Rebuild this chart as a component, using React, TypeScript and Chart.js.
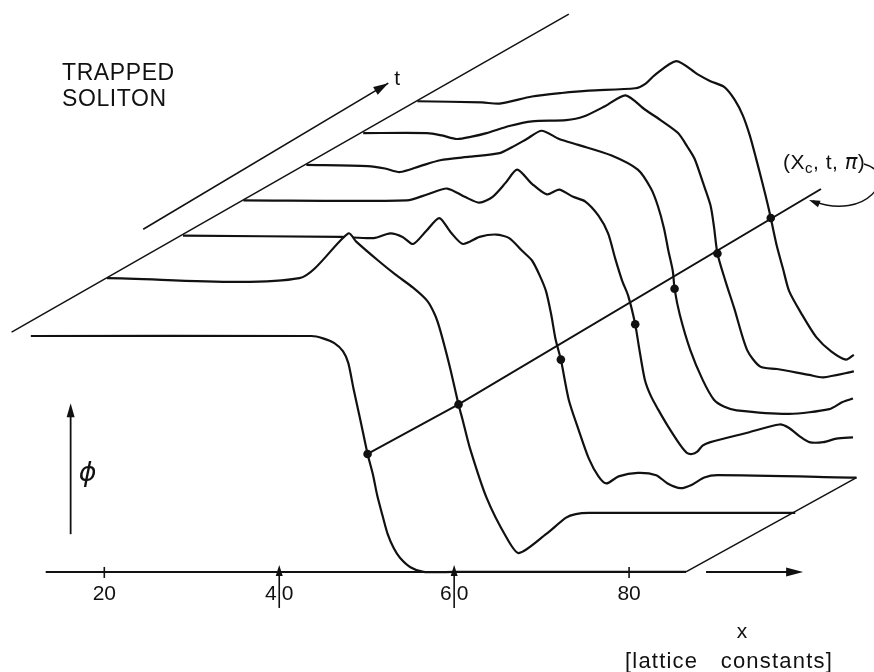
import React, { useEffect, useRef } from "react";
import { Chart, registerables } from "chart.js";

Chart.register(...registerables);

// Field profiles phi(x) of the trapped soliton, one per time slice t = 0..6.
// x in lattice constants, phi in units of π.
const xT0 = [11.6, 43.7, 45.0, 46.3, 47.3, 47.9, 48.5, 49.3, 50.1, 50.7, 51.2, 51.8, 52.4, 53.1, 53.8, 55.0, 56.5, 60.0, 86.5];
const phiT0 = [2.0, 2.0, 1.98, 1.94, 1.87, 1.77, 1.55, 1.28, 1.0, 0.83, 0.65, 0.48, 0.32, 0.2, 0.12, 0.04, 0, 0, 0];

const xT1 = [7.8, 29.8, 35.4, 36.3, 38.8, 40.8, 42.8, 44.4, 45.3, 45.9, 47.0, 48.0, 48.5, 49.3, 51.2, 53.5, 54.9, 58.0, 60.3, 61.4, 62.9, 86.5];
const phiT1 = [2.07, 2.07, 2.45, 2.38, 2.22, 2.1, 1.99, 1.88, 1.76, 1.63, 1.32, 1.0, 0.86, 0.63, 0.21, -0.13, -0.26, -0.1, 0.04, 0.07, 0.08, 0.08];

const xT2 = [9.5, 27.6, 31.3, 33.2, 34.6, 35.8, 37.3, 38.8, 40.1, 41.5, 43.4, 45.3, 46.8, 48.3, 49.4, 50.3, 51.0, 51.6, 52.1, 52.7, 53.6, 54.7, 55.9, 57.0, 57.9, 59.3, 61.5, 63.6, 64.9, 66.4, 67.7, 69.1, 70.6, 86.5];
const phiT2 = [2.05, 2.04, 2.03, 2.07, 2.04, 1.98, 2.09, 2.2, 2.08, 1.98, 2.04, 2.06, 2.03, 1.92, 1.84, 1.71, 1.58, 1.38, 1.17, 1.0, 0.66, 0.41, 0.16, 0.01, -0.05, 0.01, 0.04, 0.02, -0.05, -0.09, -0.06, 0.0, 0.02, 0.0];

const xT3 = [9.4, 28.1, 30.4, 32.7, 34.7, 36.4, 37.9, 39.4, 40.7, 42.4, 44.1, 45.5, 47.1, 48.5, 50.0, 51.1, 51.9, 52.7, 53.4, 54.2, 54.6, 55.3, 56.0, 56.8, 57.9, 59.4, 60.1, 60.7, 61.3, 61.9, 62.8, 67.0, 70.7, 71.8, 73.0, 74.1, 75.7, 77.2, 79.1];
const phiT3 = [2.05, 2.05, 2.1, 2.15, 2.08, 2.03, 2.08, 2.2, 2.31, 2.19, 2.1, 2.14, 2.08, 2.04, 1.92, 1.77, 1.56, 1.37, 1.24, 1.0, 0.82, 0.53, 0.39, 0.28, 0.14, -0.03, -0.09, -0.1, -0.08, -0.03, 0.0, 0.08, 0.15, 0.12, 0.05, 0.0, 0.0, 0.03, 0.04];

const xT4 = [9.6, 16.6, 18.6, 20.3, 22.6, 24.9, 28.3, 31.7, 33.1, 34.8, 36.5, 38.5, 40.7, 44.5, 47.5, 49.0, 49.8, 50.5, 51.0, 51.5, 51.7, 52.3, 53.5, 54.9, 56.2, 57.4, 58.8, 64.8, 69.4, 70.9, 72.1];
const phiT4 = [2.05, 2.04, 2.02, 1.99, 2.04, 2.09, 2.12, 2.15, 2.2, 2.27, 2.34, 2.27, 2.22, 2.13, 2.01, 1.85, 1.7, 1.51, 1.32, 1.15, 1.0, 0.78, 0.48, 0.23, 0.06, 0.0, -0.03, -0.06, -0.02, 0.04, 0.07];

const xT5 = [9.1, 16.4, 18.1, 19.8, 21.5, 23.2, 25.8, 28.4, 32.3, 34.3, 36.8, 39.1, 41.3, 43.1, 45.1, 46.2, 47.0, 47.9, 48.8, 49.2, 49.6, 50.5, 51.5, 53.0, 54.5, 56.4, 60.1, 61.7, 65.2];
const phiT5 = [2.02, 2.02, 2.0, 1.97, 1.99, 2.02, 2.08, 2.12, 2.13, 2.16, 2.25, 2.34, 2.22, 2.13, 2.02, 1.9, 1.8, 1.61, 1.41, 1.23, 1.0, 0.77, 0.54, 0.18, 0.04, 0.02, -0.03, -0.05, 0.0];

const xT6 = [8.3, 15.7, 17.7, 21.4, 24.8, 27.9, 33.2, 34.4, 35.4, 37.9, 40.3, 41.8, 43.4, 44.6, 45.5, 46.3, 47.0, 47.7, 48.4, 48.7, 49.4, 50.1, 50.8, 52.2, 53.9, 55.6, 57.3, 58.2];
const phiT6 = [1.99, 1.98, 1.97, 2.03, 2.06, 2.08, 2.1, 2.14, 2.21, 2.33, 2.22, 2.16, 2.11, 2.0, 1.87, 1.7, 1.51, 1.31, 1.1, 1.0, 0.76, 0.57, 0.38, 0.19, -0.01, -0.13, -0.2, -0.16];

// Oblique offset of each time slice in the perspective drawing
const sliceShiftX = [0, 12.5, 19.5, 26.5, 33.5, 40.5, 47.5];
const sliceShiftPhi = [0, 0.42, 0.8, 1.1, 1.4, 1.7, 2.0];

// Soliton centre X_c(t), where phi = π
const solitonCentre = [50.1, 48.0, 52.7, 54.2, 51.7, 49.6, 48.7];

// Track of the centre (X_c, t, π)
const trackX = [50.1, 48.0, 48.7];
const trackT = [0, 1, 6.82];

// x axis
const axisTicks = [20, 40, 60, 80];
const pinnedSites = [40, 60];
const axisSpan = [13.3, 86.5];
const axisArrowSpan = [88.8, 99.9];

// Base-plane edges: right edge (x, t0 -> t2), left time edge (x, t, phi)
const baseEdgeX = 86.5;
const baseEdgeT = [0, 2];
const timeEdgeX = [8.4, 8.6];
const timeEdgeT = [0.08, 8.43];
const timeEdgePhi = 2.0;
const timeArrowX = [12.4, 13.3];
const timeArrowT = [0.964, 4.81];
const timeArrowPhi = 2.5;
const phiArrowX = 16.15;
const phiArrowSpan = [0.32, 1.43];

const X_MIN = 8.566;
const X_MAX = 107.51;
const Y_MIN = -0.8117;
const Y_MAX = 4.8117;

function sliceShift(t: number): [number, number] {
  const n = sliceShiftX.length - 1;
  const i = Math.max(0, Math.min(n - 1, Math.floor(t)));
  const f = t - i;
  return [
    sliceShiftX[i] + f * (sliceShiftX[i + 1] - sliceShiftX[i]),
    sliceShiftPhi[i] + f * (sliceShiftPhi[i + 1] - sliceShiftPhi[i]),
  ];
}

function project(x: number, t: number, phi: number) {
  const [dx, dp] = sliceShift(t);
  return { x: x + dx, y: phi + dp };
}

const INK = "#111";

function arrowHead(ctx: CanvasRenderingContext2D, x1: number, y1: number, x2: number, y2: number, len: number, half: number) {
  const a = Math.atan2(y2 - y1, x2 - x1);
  const c = Math.cos(a);
  const s = Math.sin(a);
  ctx.beginPath();
  ctx.moveTo(x2, y2);
  ctx.lineTo(x2 - len * c + half * s, y2 - len * s - half * c);
  ctx.lineTo(x2 - len * c - half * s, y2 - len * s + half * c);
  ctx.closePath();
  ctx.fill();
}

const framePlugin = {
  id: "frame",
  afterDatasetsDraw(chart: any) {
    const ctx: CanvasRenderingContext2D = chart.ctx;
    const sx = chart.scales.x;
    const sy = chart.scales.y;
    const P = (x: number, t: number, phi: number) => {
      const p = project(x, t, phi);
      return [sx.getPixelForValue(p.x), sy.getPixelForValue(p.y)];
    };
    const seg = (a: number[], b: number[], w: number) => {
      ctx.lineWidth = w;
      ctx.beginPath();
      ctx.moveTo(a[0], a[1]);
      ctx.lineTo(b[0], b[1]);
      ctx.stroke();
    };

    ctx.save();
    ctx.strokeStyle = INK;
    ctx.fillStyle = INK;
    ctx.lineCap = "butt";

    // x axis of the front slice
    const a0 = P(axisSpan[0], 0, 0);
    const a1 = P(axisSpan[1], 0, 0);
    seg(a0, a1, 2);
    const r0 = P(axisArrowSpan[0], 0, 0);
    const r1 = P(axisArrowSpan[1], 0, 0);
    seg(r0, [r1[0] - 8, r1[1]], 2);
    arrowHead(ctx, r0[0], r0[1], r1[0], r1[1], 17, 4.5);

    // base plane edges
    seg(P(baseEdgeX, baseEdgeT[0], 0), P(baseEdgeX, baseEdgeT[1], 0), 1.5);
    seg(P(timeEdgeX[0], timeEdgeT[0], timeEdgePhi), P(timeEdgeX[1], timeEdgeT[1], timeEdgePhi), 1.5);

    // time arrow
    const ta = P(timeArrowX[0], timeArrowT[0], timeArrowPhi);
    const tb = P(timeArrowX[1], timeArrowT[1], timeArrowPhi);
    seg(ta, tb, 1.6);
    arrowHead(ctx, ta[0], ta[1], tb[0], tb[1], 15, 4.5);
    ctx.font = '21px "Liberation Sans"';
    ctx.textAlign = "left";
    ctx.textBaseline = "alphabetic";
    ctx.fillText("t", tb[0] + 6, tb[1] + 2);

    // phi arrow
    const pa = P(phiArrowX, 0, phiArrowSpan[0]);
    const pb = P(phiArrowX, 0, phiArrowSpan[1]);
    seg(pa, [pb[0], pb[1] + 6], 1.8);
    arrowHead(ctx, pa[0], pa[1], pb[0], pb[1], 14, 4);
    ctx.font = 'italic 27px "DejaVu Sans"';
    ctx.textAlign = "center";
    ctx.textBaseline = "middle";
    ctx.fillText("\u03D5", pa[0] + 17, (pa[1] + pb[1]) / 2 + 5);

    // ticks, impurity pins and tick labels
    const axisY = a0[1];
    ctx.font = '21px "Liberation Sans"';
    ctx.textBaseline = "alphabetic";
    for (const v of axisTicks) {
      const cx = sx.getPixelForValue(v);
      const label = String(v);
      if (pinnedSites.includes(v)) {
        const tail = [cx, axisY + 36];
        const tip = [cx, axisY - 7];
        seg(tail, [tip[0], tip[1] + 6], 1.6);
        arrowHead(ctx, tail[0], tail[1], tip[0], tip[1], 11, 3.5);
        ctx.textAlign = "right";
        ctx.fillText(label[0], cx - 2.5, axisY + 28);
        ctx.textAlign = "left";
        ctx.fillText(label[1], cx + 2.5, axisY + 28);
      } else {
        seg([cx, axisY - 5], [cx, axisY + 6], 1.6);
        ctx.textAlign = "center";
        ctx.fillText(label, cx, axisY + 28);
      }
    }

    // axis title
    ctx.textAlign = "center";
    ctx.font = '21px "Liberation Sans"';
    ctx.fillText("x", 742, 638);
    ctx.font = '22px "Liberation Sans"';
    (ctx as any).letterSpacing = "1.2px";
    ctx.textAlign = "left";
    ctx.fillText("[lattice", 625, 668);
    ctx.textAlign = "right";
    ctx.fillText("constants]", 833, 668);

    // title
    ctx.font = '23px "Liberation Sans"';
    (ctx as any).letterSpacing = "0.6px";
    ctx.textAlign = "left";
    ctx.fillText("TRAPPED", 62, 80);
    ctx.fillText("SOLITON", 62, 106);

    // label of the centre track with its pointer
    const n = trackX.length - 1;
    const e = P(trackX[n], trackT[n], 1);
    (ctx as any).letterSpacing = "0.5px";
    ctx.font = '21px "Liberation Sans"';
    let lx = e[0] - 38;
    const ly = e[1] - 20;
    ctx.fillText("(X", lx, ly);
    lx += ctx.measureText("(X").width;
    ctx.font = '15px "Liberation Sans"';
    ctx.fillText("c", lx, ly + 4);
    lx += ctx.measureText("c").width;
    ctx.font = '21px "Liberation Sans"';
    ctx.fillText(", t, ", lx, ly);
    lx += ctx.measureText(", t, ").width;
    ctx.font = 'italic 21px "DejaVu Sans"';
    ctx.fillText("\u03C0", lx, ly);
    lx += ctx.measureText("\u03C0").width;
    ctx.font = '21px "Liberation Sans"';
    ctx.fillText(")", lx, ly);

    ctx.lineWidth = 1.4;
    ctx.beginPath();
    ctx.moveTo(e[0] + 43, e[1] - 25);
    ctx.bezierCurveTo(e[0] + 80, e[1] - 15, e[0] + 45, e[1] + 33, e[0] - 8, e[1] + 12);
    ctx.stroke();
    arrowHead(ctx, e[0] + 45, e[1] + 33, e[0] - 12, e[1] + 11, 11, 3.5);

    ctx.restore();
  },
};

export default function App() {
  const ref = useRef<HTMLCanvasElement>(null);

  useEffect(() => {
    const canvas = ref.current;
    if (!canvas) return;
    const slices = [
      { x: xT0, phi: phiT0 },
      { x: xT1, phi: phiT1 },
      { x: xT2, phi: phiT2 },
      { x: xT3, phi: phiT3 },
      { x: xT4, phi: phiT4 },
      { x: xT5, phi: phiT5 },
      { x: xT6, phi: phiT6 },
    ];
    // back slices are painted first; the white fill hides lines behind a front profile
    const profileSets = slices.map((s, t) => ({
      data: s.x.map((x, i) => project(x, t, s.phi[i])),
      borderColor: INK,
      borderWidth: 2.2,
      backgroundColor: "#ffffff",
      fill: "start",
      tension: 0.25,
      pointRadius: 0,
      order: 2 + t,
    }));

    const chart = new Chart(canvas, {
      type: "line",
      data: {
        datasets: [
          {
            data: solitonCentre.map((xc, t) => project(xc, t, 1)),
            showLine: false,
            pointRadius: 4.3,
            pointBackgroundColor: INK,
            pointBorderWidth: 0,
            order: 0,
          } as any,
          {
            data: trackX.map((x, i) => project(x, trackT[i], 1)),
            borderColor: INK,
            borderWidth: 2,
            pointRadius: 0,
            tension: 0,
            fill: false,
            order: 1,
          },
          ...(profileSets as any[]),
        ],
      },
      options: {
        animation: false,
        responsive: false,
        maintainAspectRatio: false,
        events: [],
        layout: { padding: 0 },
        plugins: {
          legend: { display: false },
          tooltip: { enabled: false },
          title: { display: false },
        },
        scales: {
          x: { type: "linear", min: X_MIN, max: X_MAX, display: false },
          y: { type: "linear", min: Y_MIN, max: Y_MAX, display: false },
        },
      },
      plugins: [framePlugin],
    });
    return () => chart.destroy();
  }, []);

  return (
    <div style={{ position: "fixed", left: 0, top: 0, width: 874, height: 672, background: "#fff" }}>
      <canvas ref={ref} width={874} height={672} style={{ display: "block" }} />
    </div>
  );
}
